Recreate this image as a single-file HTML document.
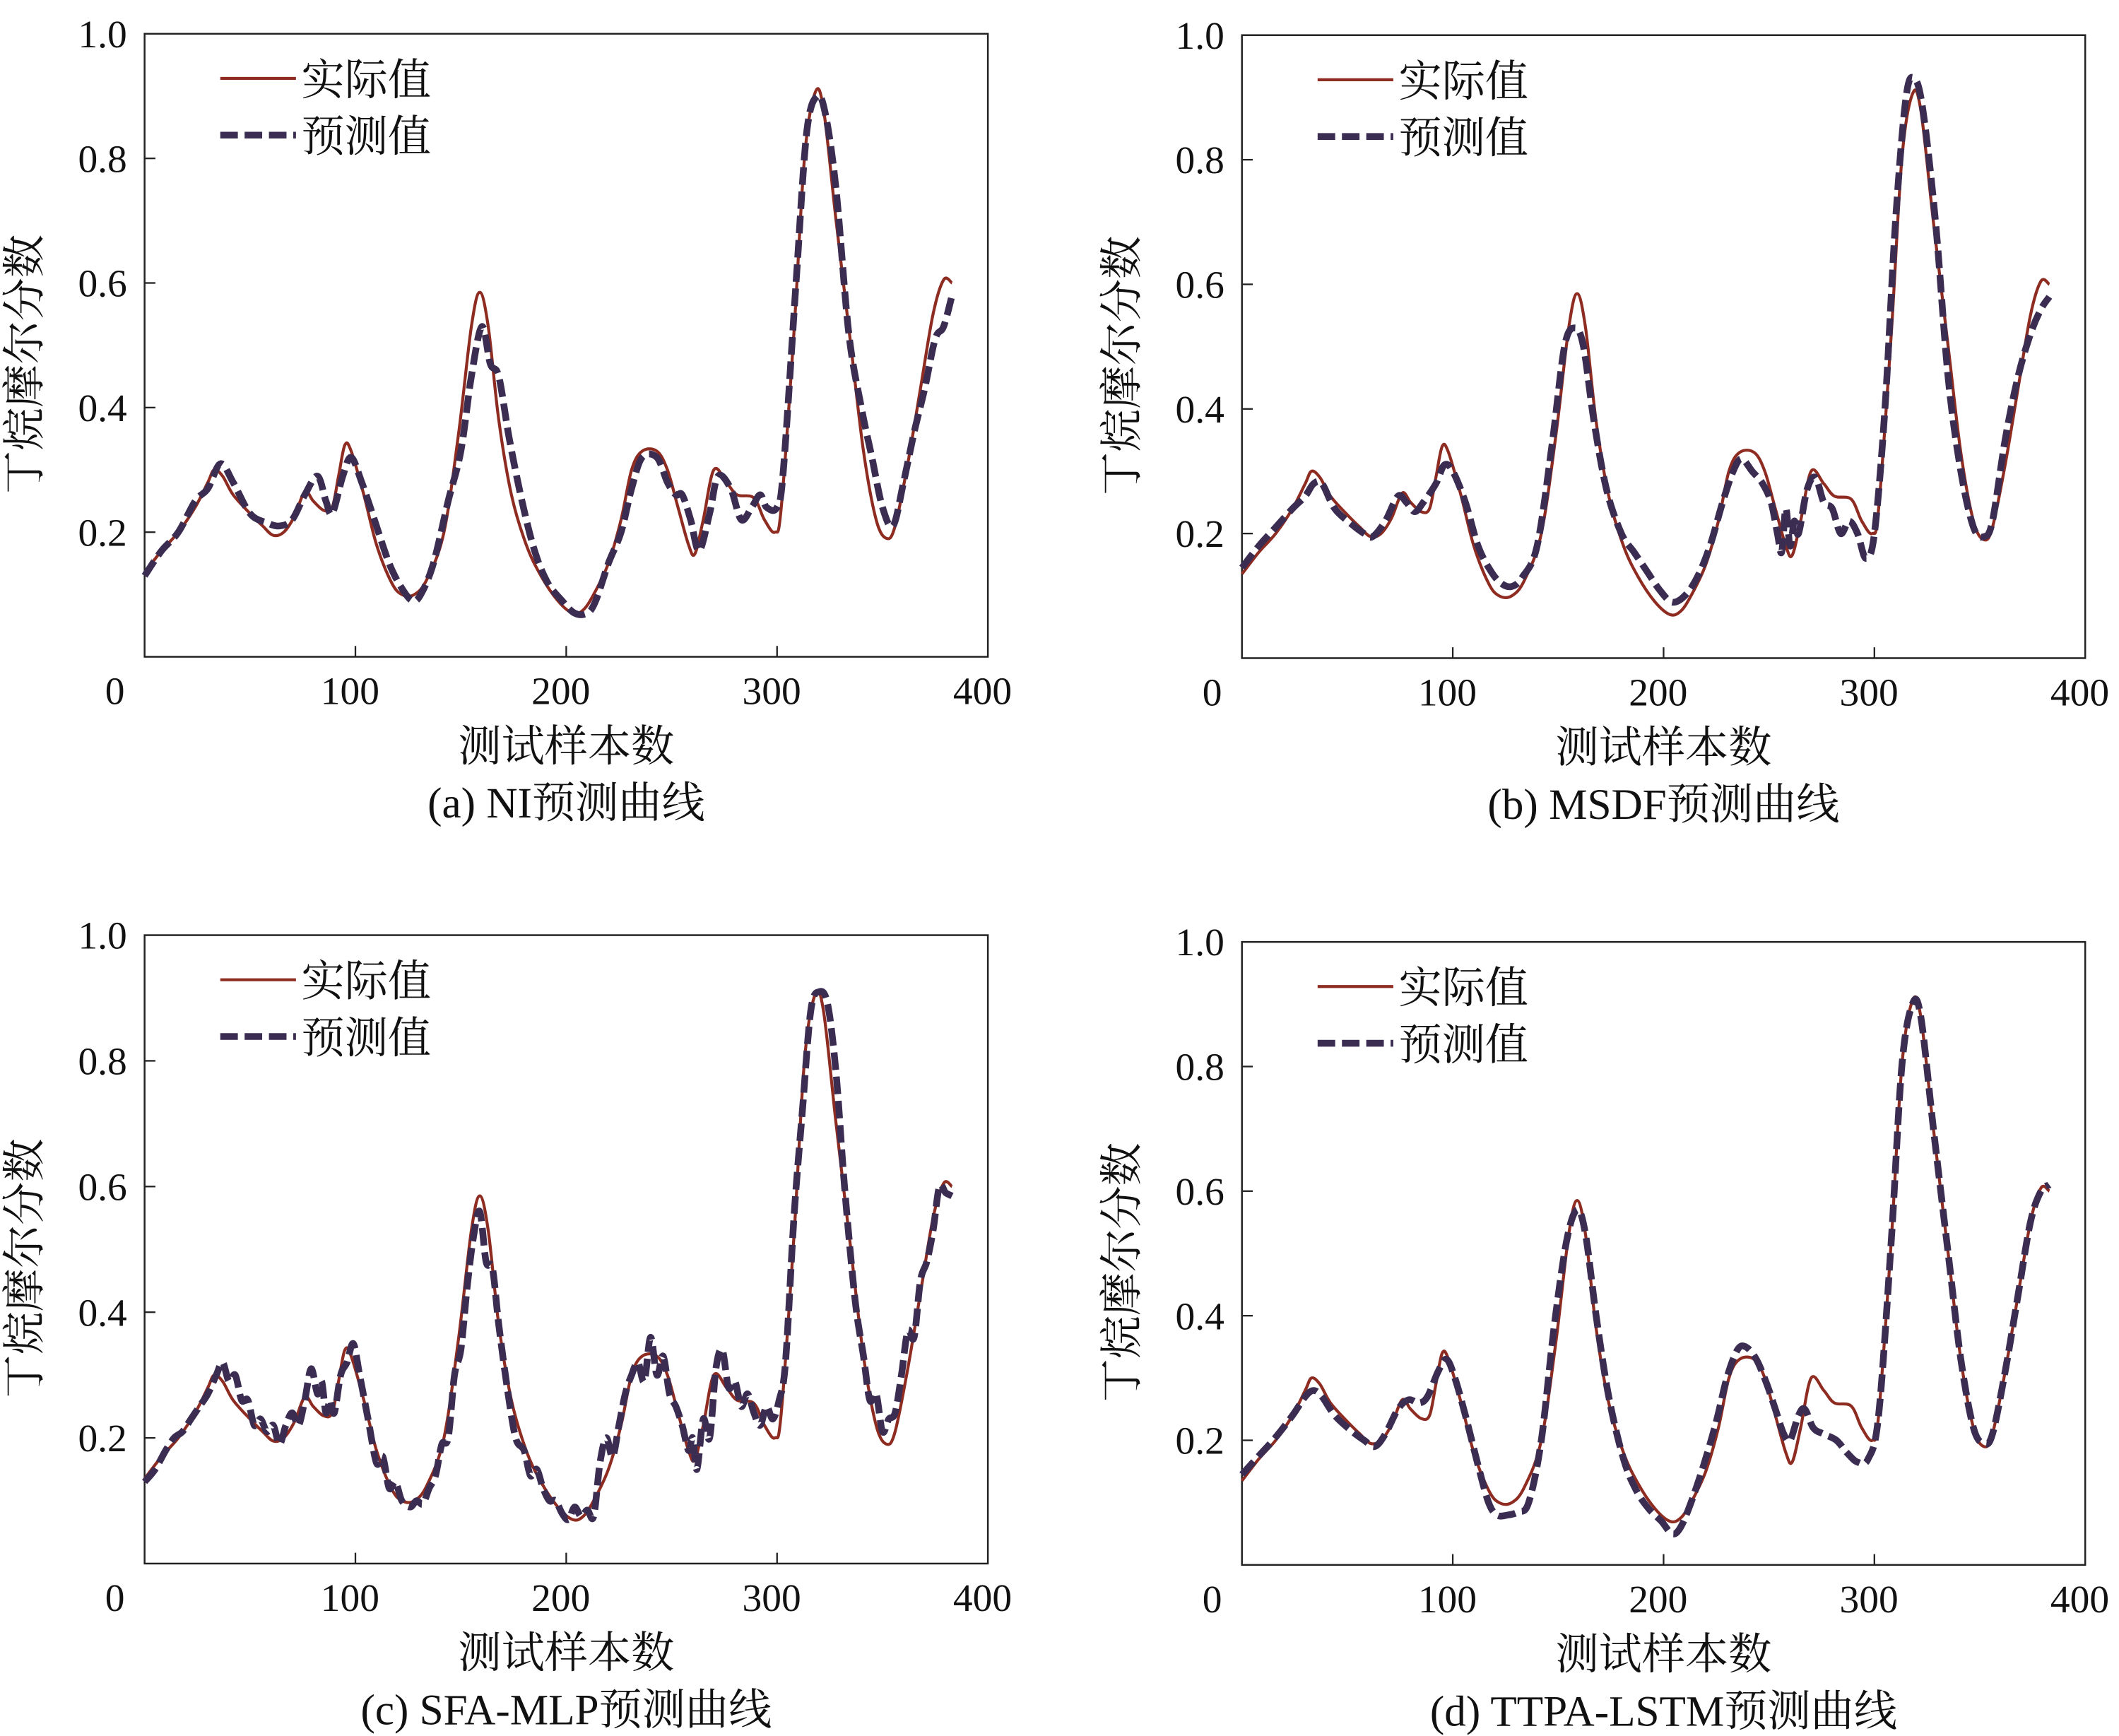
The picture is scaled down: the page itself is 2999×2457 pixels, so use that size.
<!DOCTYPE html>
<html><head><meta charset="utf-8"><style>
html,body{margin:0;padding:0;background:#fff;}
svg{display:block;}
text{font-family:"Liberation Serif","Noto Serif CJK SC","Noto Sans CJK SC",serif;fill:#111;}
</style></head>
<body>
<svg id="fig" width="2999" height="2457" viewBox="0 0 1568 1284.6" preserveAspectRatio="none" xmlns="http://www.w3.org/2000/svg"></svg>
<script>
const xTicks = [0, 100, 200, 300, 400];
const yTicks = [0.2, 0.4, 0.6, 0.8, 1.0];
const yTickLabels = ["0.2", "0.4", "0.6", "0.8", "1.0"];
const panelTitles = ["(a) NI预测曲线", "(b) MSDF预测曲线", "(c) SFA-MLP预测曲线", "(d) TTPA-LSTM预测曲线"];
const actual = [[0,0.135],[8,0.17],[16,0.2],[24,0.24],[30,0.28],[33,0.3],[37,0.29],[42,0.26],[50,0.23],[56,0.21],[61,0.195],[66,0.2],[71,0.225],[76,0.265],[80,0.25],[85,0.235],[89,0.24],[92,0.29],[95,0.34],[98,0.33],[104,0.26],[110,0.18],[117,0.12],[122,0.1],[128,0.1],[134,0.125],[142,0.2],[149,0.36],[155,0.53],[159,0.585],[163,0.53],[168,0.38],[174,0.26],[181,0.18],[188,0.13],[196,0.09],[203,0.07],[208,0.075],[213,0.1],[220,0.15],[226,0.22],[231,0.3],[236,0.33],[243,0.33],[248,0.3],[253,0.24],[258,0.18],[261,0.165],[265,0.22],[270,0.3],[276,0.28],[281,0.26],[289,0.255],[294,0.22],[299,0.2],[302,0.24],[308,0.52],[313,0.8],[318,0.905],[322,0.88],[328,0.7],[335,0.5],[341,0.33],[347,0.22],[352,0.19],[356,0.21],[362,0.31],[368,0.43],[374,0.55],[379,0.605],[383,0.6]];
const predNI = [[0,0.13],[8,0.17],[16,0.2],[24,0.25],[30,0.27],[36,0.31],[42,0.28],[50,0.23],[58,0.215],[64,0.21],[70,0.22],[76,0.26],[82,0.29],[86,0.25],[89,0.23],[94,0.29],[98,0.32],[103,0.28],[109,0.22],[116,0.15],[122,0.11],[127,0.09],[131,0.1],[137,0.15],[144,0.25],[150,0.33],[155,0.45],[160,0.53],[164,0.47],[168,0.45],[173,0.35],[179,0.25],[185,0.17],[191,0.12],[198,0.09],[204,0.07],[210,0.07],[214,0.09],[220,0.15],[226,0.2],[231,0.27],[236,0.32],[243,0.32],[248,0.28],[252,0.26],[255,0.26],[259,0.22],[263,0.17],[268,0.23],[272,0.29],[278,0.27],[283,0.22],[288,0.24],[292,0.26],[295,0.24],[300,0.24],[303,0.3],[309,0.6],[314,0.84],[319,0.9],[323,0.87],[328,0.75],[334,0.52],[340,0.4],[345,0.32],[350,0.24],[355,0.21],[360,0.28],[365,0.36],[370,0.43],[375,0.51],[379,0.53],[383,0.58]];
const predMSDF = [[0,0.145],[8,0.18],[16,0.21],[24,0.24],[30,0.26],[34,0.28],[38,0.28],[44,0.24],[52,0.215],[58,0.2],[62,0.195],[68,0.22],[74,0.26],[78,0.25],[82,0.235],[86,0.25],[92,0.28],[96,0.31],[100,0.3],[106,0.25],[112,0.18],[118,0.14],[123,0.12],[128,0.115],[133,0.13],[140,0.18],[147,0.34],[153,0.5],[158,0.53],[162,0.5],[167,0.38],[173,0.27],[180,0.2],[186,0.17],[192,0.14],[198,0.11],[204,0.09],[210,0.1],[216,0.13],[222,0.18],[228,0.25],[233,0.3],[237,0.32],[242,0.3],[247,0.28],[251,0.25],[254,0.2],[256,0.17],[258,0.24],[260,0.18],[262,0.22],[264,0.2],[268,0.27],[272,0.29],[276,0.25],[280,0.24],[284,0.2],[288,0.22],[292,0.2],[296,0.16],[300,0.2],[305,0.4],[310,0.7],[315,0.9],[319,0.93],[323,0.88],[329,0.7],[335,0.45],[341,0.3],[347,0.21],[352,0.195],[356,0.22],[362,0.35],[368,0.45],[374,0.52],[379,0.56],[383,0.58]];
const predSFA = [[0,0.13],[5,0.15],[10,0.18],[14,0.2],[18,0.21],[22,0.23],[26,0.25],[30,0.27],[34,0.3],[37,0.32],[40,0.29],[43,0.3],[46,0.26],[49,0.26],[52,0.22],[55,0.23],[58,0.21],[61,0.22],[64,0.19],[67,0.22],[70,0.24],[73,0.22],[76,0.26],[79,0.31],[82,0.27],[84,0.29],[86,0.24],[88,0.26],[90,0.24],[93,0.3],[96,0.32],[99,0.35],[102,0.3],[106,0.23],[110,0.16],[113,0.17],[116,0.12],[119,0.13],[122,0.1],[126,0.09],[129,0.1],[132,0.095],[135,0.12],[138,0.14],[141,0.19],[144,0.2],[147,0.3],[150,0.34],[153,0.44],[156,0.52],[159,0.56],[162,0.48],[165,0.47],[168,0.38],[172,0.28],[176,0.2],[180,0.18],[183,0.14],[186,0.15],[189,0.12],[192,0.1],[195,0.1],[198,0.08],[201,0.07],[204,0.09],[207,0.075],[210,0.085],[213,0.075],[216,0.16],[219,0.2],[222,0.17],[225,0.22],[228,0.27],[231,0.3],[234,0.32],[237,0.29],[240,0.36],[243,0.3],[246,0.33],[249,0.27],[252,0.25],[255,0.22],[258,0.18],[260,0.2],[262,0.15],[265,0.23],[268,0.2],[271,0.31],[274,0.34],[277,0.28],[280,0.29],[283,0.25],[286,0.27],[289,0.24],[292,0.22],[295,0.25],[298,0.23],[301,0.26],[304,0.32],[308,0.55],[312,0.72],[316,0.88],[320,0.91],[324,0.89],[328,0.78],[332,0.6],[337,0.42],[341,0.33],[344,0.26],[347,0.27],[350,0.21],[353,0.23],[356,0.24],[359,0.3],[362,0.37],[365,0.36],[368,0.45],[371,0.48],[374,0.53],[377,0.6],[380,0.59],[383,0.585]];
const predTTPA = [[0,0.145],[8,0.175],[16,0.205],[24,0.24],[30,0.27],[34,0.28],[38,0.27],[44,0.24],[52,0.215],[58,0.2],[63,0.19],[68,0.21],[74,0.25],[79,0.265],[84,0.26],[88,0.27],[93,0.31],[97,0.33],[101,0.3],[106,0.24],[112,0.16],[117,0.1],[121,0.08],[126,0.08],[131,0.085],[136,0.1],[142,0.2],[148,0.38],[154,0.52],[159,0.57],[163,0.53],[168,0.4],[174,0.27],[181,0.17],[187,0.12],[193,0.09],[199,0.07],[204,0.05],[208,0.06],[213,0.1],[219,0.16],[225,0.23],[230,0.3],[235,0.345],[239,0.35],[244,0.33],[249,0.29],[253,0.25],[257,0.21],[260,0.2],[264,0.24],[267,0.25],[271,0.22],[276,0.21],[282,0.2],[287,0.18],[292,0.165],[297,0.17],[302,0.24],[308,0.52],[313,0.8],[318,0.9],[322,0.88],[328,0.7],[335,0.5],[341,0.33],[347,0.22],[352,0.195],[356,0.21],[362,0.31],[368,0.43],[374,0.55],[379,0.6],[383,0.61]];
const predSeries = [predNI, predMSDF, predSFA, predTTPA];

const NS = "http://www.w3.org/2000/svg";
const svg = document.getElementById("fig");
const panels = [
  {x0:107, x1:731, yTop:25, yBot:486},
  {x0:919, x1:1543, yTop:26, yBot:487},
  {x0:107, x1:731, yTop:692, yBot:1157},
  {x0:919, x1:1543, yTop:697, yBot:1158}
];
function mk(tag, attrs, parent){
  const e = document.createElementNS(NS, tag);
  for (const k in attrs) e.setAttribute(k, attrs[k]);
  parent.appendChild(e);
  return e;
}
function smoothPath(pts){
  let d = "M" + pts[0][0].toFixed(2) + "," + pts[0][1].toFixed(2);
  for (let i = 0; i < pts.length - 1; i++){
    const p0 = pts[Math.max(0, i-1)], p1 = pts[i], p2 = pts[i+1], p3 = pts[Math.min(pts.length-1, i+2)];
    const c1x = p1[0] + (p2[0]-p0[0])/6, c1y = p1[1] + (p2[1]-p0[1])/6;
    const c2x = p2[0] - (p3[0]-p1[0])/6, c2y = p2[1] - (p3[1]-p1[1])/6;
    d += " C" + c1x.toFixed(2) + "," + c1y.toFixed(2) + " " + c2x.toFixed(2) + "," + c2y.toFixed(2) + " " + p2[0].toFixed(2) + "," + p2[1].toFixed(2);
  }
  return d;
}
panels.forEach((P, i) => {
  const g = mk("g", {}, svg);
  
  
  const xs = v => P.x0 + (v - 0) / 400 * (P.x1 - P.x0);
  const ys = v => P.yBot - v * (P.yBot - P.yTop);
  const frame = mk("rect", {x:P.x0, y:P.yTop, width:P.x1-P.x0, height:P.yBot-P.yTop, fill:"none", stroke:"#222", "stroke-width":1.3}, g);
  
  
  yTicks.forEach((t, k) => {
    const y = ys(t);
    if (t < 1) {
      const tk = mk("line", {x1:P.x0, x2:P.x0+8, y1:y, y2:y, stroke:"#222", "stroke-width":1.2}, g);
      
      
    }
    const lb = mk("text", {x:P.x0-13, y:y+10, "font-size":29, "text-anchor":"end"}, g);
    lb.textContent = yTickLabels[k];
    
    
  });
  xTicks.forEach(t => {
    const x = xs(t);
    if (t > 0 && t < 400) {
      const tk = mk("line", {x1:x, x2:x, y1:P.yBot, y2:P.yBot-8, stroke:"#222", "stroke-width":1.2}, g);
      
      
    }
    const lb = mk("text", {x: t===0 ? x-22 : x-4, y:P.yBot+35, "font-size":29, "text-anchor":"middle"}, g);
    lb.textContent = String(t);
    
    
  });
  const yt = mk("text", {x:0, y:0, "font-size":32, "text-anchor":"middle", transform:"translate(" + (P.x0-78) + "," + ((P.yTop+P.yBot)/2+14) + ") rotate(-90)"}, g);
  yt.textContent = "丁烷摩尔分数";
  
  
  const xt = mk("text", {x:(P.x0+P.x1)/2, y:P.yBot+77, "font-size":32, "text-anchor":"middle"}, g);
  xt.textContent = "测试样本数";
  
  
  const ct = mk("text", {x:(P.x0+P.x1)/2, y:P.yBot+119, "font-size":32, "text-anchor":"middle"}, g);
  ct.textContent = panelTitles[i];
  
  
  const a = mk("path", {d:smoothPath(actual.map(p => [xs(p[0]), ys(p[1])])), fill:"none", stroke:"#8e2c22", "stroke-width":2.2, "stroke-linejoin":"round"}, g);
  
  
  const pr = mk("path", {d:smoothPath(predSeries[i].map(p => [xs(p[0]), ys(p[1])])), fill:"none", stroke:"#3b2d52", "stroke-width":5, "stroke-dasharray":"13,5", "stroke-linejoin":"round"}, g);
  
  
  const lgY1 = P.yTop + 33, lgY2 = P.yTop + 75;
  const l1 = mk("line", {x1:P.x0+56, x2:P.x0+112, y1:lgY1, y2:lgY1, stroke:"#8e2c22", "stroke-width":2.2}, g);
  
  
  const t1 = mk("text", {x:P.x0+116, y:lgY1+12, "font-size":32}, g);
  t1.textContent = "实际值";
  
  
  const l2 = mk("line", {x1:P.x0+56, x2:P.x0+112, y1:lgY2, y2:lgY2, stroke:"#3b2d52", "stroke-width":5, "stroke-dasharray":"13,5"}, g);
  
  
  const t2 = mk("text", {x:P.x0+116, y:lgY2+12, "font-size":32}, g);
  t2.textContent = "预测值";
  
  
});
</script>
</body></html>
